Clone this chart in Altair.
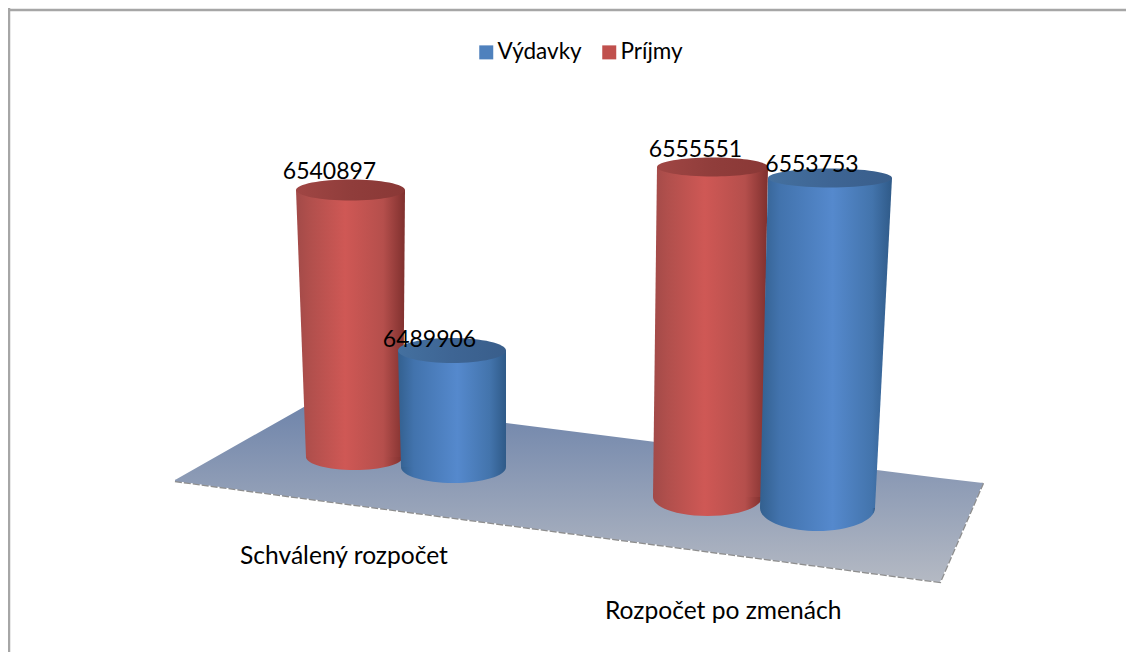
import altair as alt
import pandas as pd

# ---- chart values ----
categories = ["Schválený rozpočet", "Rozpočet po zmenách"]
series = ["Výdavky", "Príjmy"]
prijmy = [6540897, 6555551]
vydavky = [6489906, 6553753]
base_value = 6400000  # level of the (hidden) truncated floor of the value axis

# ---- layout of the 3D projection (picture units) ----
W, H, OX, OY = 1118, 644, 8, 8
FONT = "Lato"
COLORS = {"Výdavky": "#4f81bd", "Príjmy": "#c0504d"}


def grad(stops):
    return alt.Gradient(
        gradient="linear", x1=0, x2=1, y1=0, y2=0,
        stops=[alt.GradientStop(offset=o, color=c) for o, c in stops],
    )


RED_BODY = [(0, "#a24a48"), (0.12, "#b04f4c"), (0.45, "#cf5855"), (0.8, "#b54f4c"), (1, "#7f302e")]
BLUE_BODY = [(0, "#33608f"), (0.15, "#4273ad"), (0.55, "#5589cd"), (0.85, "#4374ac"), (1, "#2f5a88")]
RED_TOP = [(0, "#a04644"), (0.5, "#903d3b"), (1, "#8a3836")]
BLUE_TOP = [(0, "#44709f"), (0.5, "#3e6594"), (1, "#395e8b")]

# value, series, geometry: top (left, right, y), bottom (left, right, y), label (x, dy)
cyl = [
    dict(v=prijmy[0], body=RED_BODY, cap=RED_TOP, tl=296, tr=405, ty=190, try_=10.5,
         bl=306, br=403, by=457, bry=13, lx=329.5, dy=-18),
    dict(v=prijmy[1], body=RED_BODY, cap=RED_TOP, tl=657, tr=768, ty=167, try_=9.5,
         bl=653, br=762, by=497, bry=19, lx=695.5, dy=-17),
    dict(v=vydavky[1], body=BLUE_BODY, cap=BLUE_TOP, tl=768, tr=892, ty=178, try_=9.5,
         bl=760, br=875, by=508, bry=23, lx=812, dy=-13),
    dict(v=vydavky[0], body=BLUE_BODY, cap=BLUE_TOP, tl=398, tr=506, ty=350.5, try_=12.5,
         bl=401, br=506, by=467, bry=16, lx=429.5, dy=-11),
]

X = alt.Scale(domain=[OX, OX + W], nice=False, zero=False)
FRAME_Y = alt.Scale(domain=[OY + H, OY], nice=False, zero=False)


def bottom_stops(c):
    # the bottom ellipse continues the body's gradient, whose box may be wider
    L, R = min(c["tl"], c["bl"]), max(c["tr"], c["br"])
    out = []
    for o, col in c["body"]:
        e = (L + o * (R - L) - c["bl"]) / (c["br"] - c["bl"])
        out.append((min(max(e, 0), 1), col))
    return out


def ellipse(cx, val, rx, ry, fill, dom):
    r = ry / rx
    path = f"M-1,0A1,{r:.4f} 0 1,1 1,0A1,{r:.4f} 0 1,1 -1,0Z"
    return (
        alt.Chart(pd.DataFrame({"cx": [cx], "val": [val]}))
        .mark_point(shape=path, size=(2 * rx) ** 2, filled=True, color=fill, opacity=1, strokeWidth=0)
        .encode(
            x=alt.X("cx:Q", scale=X, axis=None),
            y=alt.Y("val:Q", scale=alt.Scale(domain=dom, nice=False, zero=False), axis=None),
        )
    )


layers = []

# frame (only top and left lines exist)
layers.append(
    alt.Chart(pd.DataFrame({"x": [OX], "x2": [OX + W], "y": [10]}))
    .mark_rule(color="#a6a6a6", strokeWidth=2.5)
    .encode(x=alt.X("x:Q", scale=X, axis=None), x2="x2:Q", y=alt.Y("y:Q", scale=FRAME_Y, axis=None))
)
layers.append(
    alt.Chart(pd.DataFrame({"x": [9], "y": [OY], "y2": [OY + H]}))
    .mark_rule(color="#a6a6a6", strokeWidth=2.5)
    .encode(x=alt.X("x:Q", scale=X, axis=None), y=alt.Y("y:Q", scale=FRAME_Y, axis=None), y2="y2:Q")
)

# floor
floor = pd.DataFrame({
    "x": [175, 318, 940, 983],
    "top": [480, 399, 478, 483],
    "bottom": [481, 500, 582, 483],
})
layers.append(
    alt.Chart(floor)
    .mark_line(color="#8e8e8e", strokeWidth=2.5, strokeDash=[7, 2])
    .encode(x=alt.X("x:Q", scale=X, axis=None), y=alt.Y("bottom:Q", scale=FRAME_Y, axis=None))
)
layers.append(
    alt.Chart(floor)
    .mark_area(
        color=alt.Gradient(
            gradient="linear", x1=0, x2=0, y1=0, y2=1,
            stops=[alt.GradientStop(offset=0, color="#6d83aa"),
                   alt.GradientStop(offset=1, color="#b4b9c3")],
        )
    )
    .encode(x=alt.X("x:Q", scale=X, axis=None), y=alt.Y("top:Q", scale=FRAME_Y, axis=None), y2="bottom:Q")
)

# cylinders
for c in cyl:
    s = (c["by"] - c["ty"]) / (c["v"] - base_value)
    dom = [base_value - (OY + H - c["by"]) / s, c["v"] + (c["ty"] - OY) / s]
    yscale = alt.Scale(domain=dom, nice=False, zero=False)
    layers.append(ellipse((c["bl"] + c["br"]) / 2, base_value, (c["br"] - c["bl"]) / 2, c["bry"],
                          grad(bottom_stops(c)), dom))
    body = pd.DataFrame({"level": [c["v"], base_value], "l": [c["tl"], c["bl"]], "r": [c["tr"], c["br"]]})
    layers.append(
        alt.Chart(body)
        .mark_area(orient="horizontal", color=grad(c["body"]))
        .encode(x=alt.X("l:Q", scale=X, axis=None), x2="r:Q", y=alt.Y("level:Q", scale=yscale, axis=None))
    )
    layers.append(ellipse((c["tl"] + c["tr"]) / 2, c["v"], (c["tr"] - c["tl"]) / 2, c["try_"], grad(c["cap"]), dom))

for c in cyl:
    s = (c["by"] - c["ty"]) / (c["v"] - base_value)
    dom = [base_value - (OY + H - c["by"]) / s, c["v"] + (c["ty"] - OY) / s]
    layers.append(
        alt.Chart(pd.DataFrame({"x": [c["lx"]], "val": [c["v"]], "t": [str(c["v"])]}))
        .mark_text(font=FONT, fontSize=23, color="#000000", baseline="middle", align="center", dy=c["dy"])
        .encode(
            x=alt.X("x:Q", scale=X, axis=None),
            y=alt.Y("val:Q", scale=alt.Scale(domain=dom, nice=False, zero=False), axis=None),
            text="t:N",
        )
    )

# category labels
cats = pd.DataFrame({"t": categories, "x": [240, 605], "y": [557, 612]})
layers.append(
    alt.Chart(cats)
    .mark_text(font=FONT, fontSize=24.6, color="#000000", baseline="middle", align="left")
    .encode(x=alt.X("x:Q", scale=X, axis=None), y=alt.Y("y:Q", scale=FRAME_Y, axis=None), text="t:N")
)

# legend
layers.append(
    alt.Chart(pd.DataFrame({"s": series}))
    .mark_square(size=0)
    .encode(
        x=alt.value(0),
        y=alt.value(0),
        color=alt.Color(
            "s:N",
            scale=alt.Scale(domain=series, range=[COLORS[s] for s in series]),
            sort=series,
            legend=alt.Legend(
                title=None, orient="none", legendX=467, legendY=33, columns=2, direction="horizontal",
                symbolType="square", symbolSize=196, symbolOpacity=1, symbolStrokeWidth=0,
                labelFont=FONT, labelFontSize=22.5, labelColor="#000000", labelOffset=0, columnPadding=16,
            ),
        ),
    )
)

chart = (
    alt.layer(*layers)
    .resolve_scale(y="independent")
    .properties(width=W, height=H, padding=0, background="white",
                autosize=alt.AutoSizeParams(type="none"))
    .configure_view(stroke=None)
)

chart.save("out.html", embed_options={"renderer": "svg", "actions": False})
